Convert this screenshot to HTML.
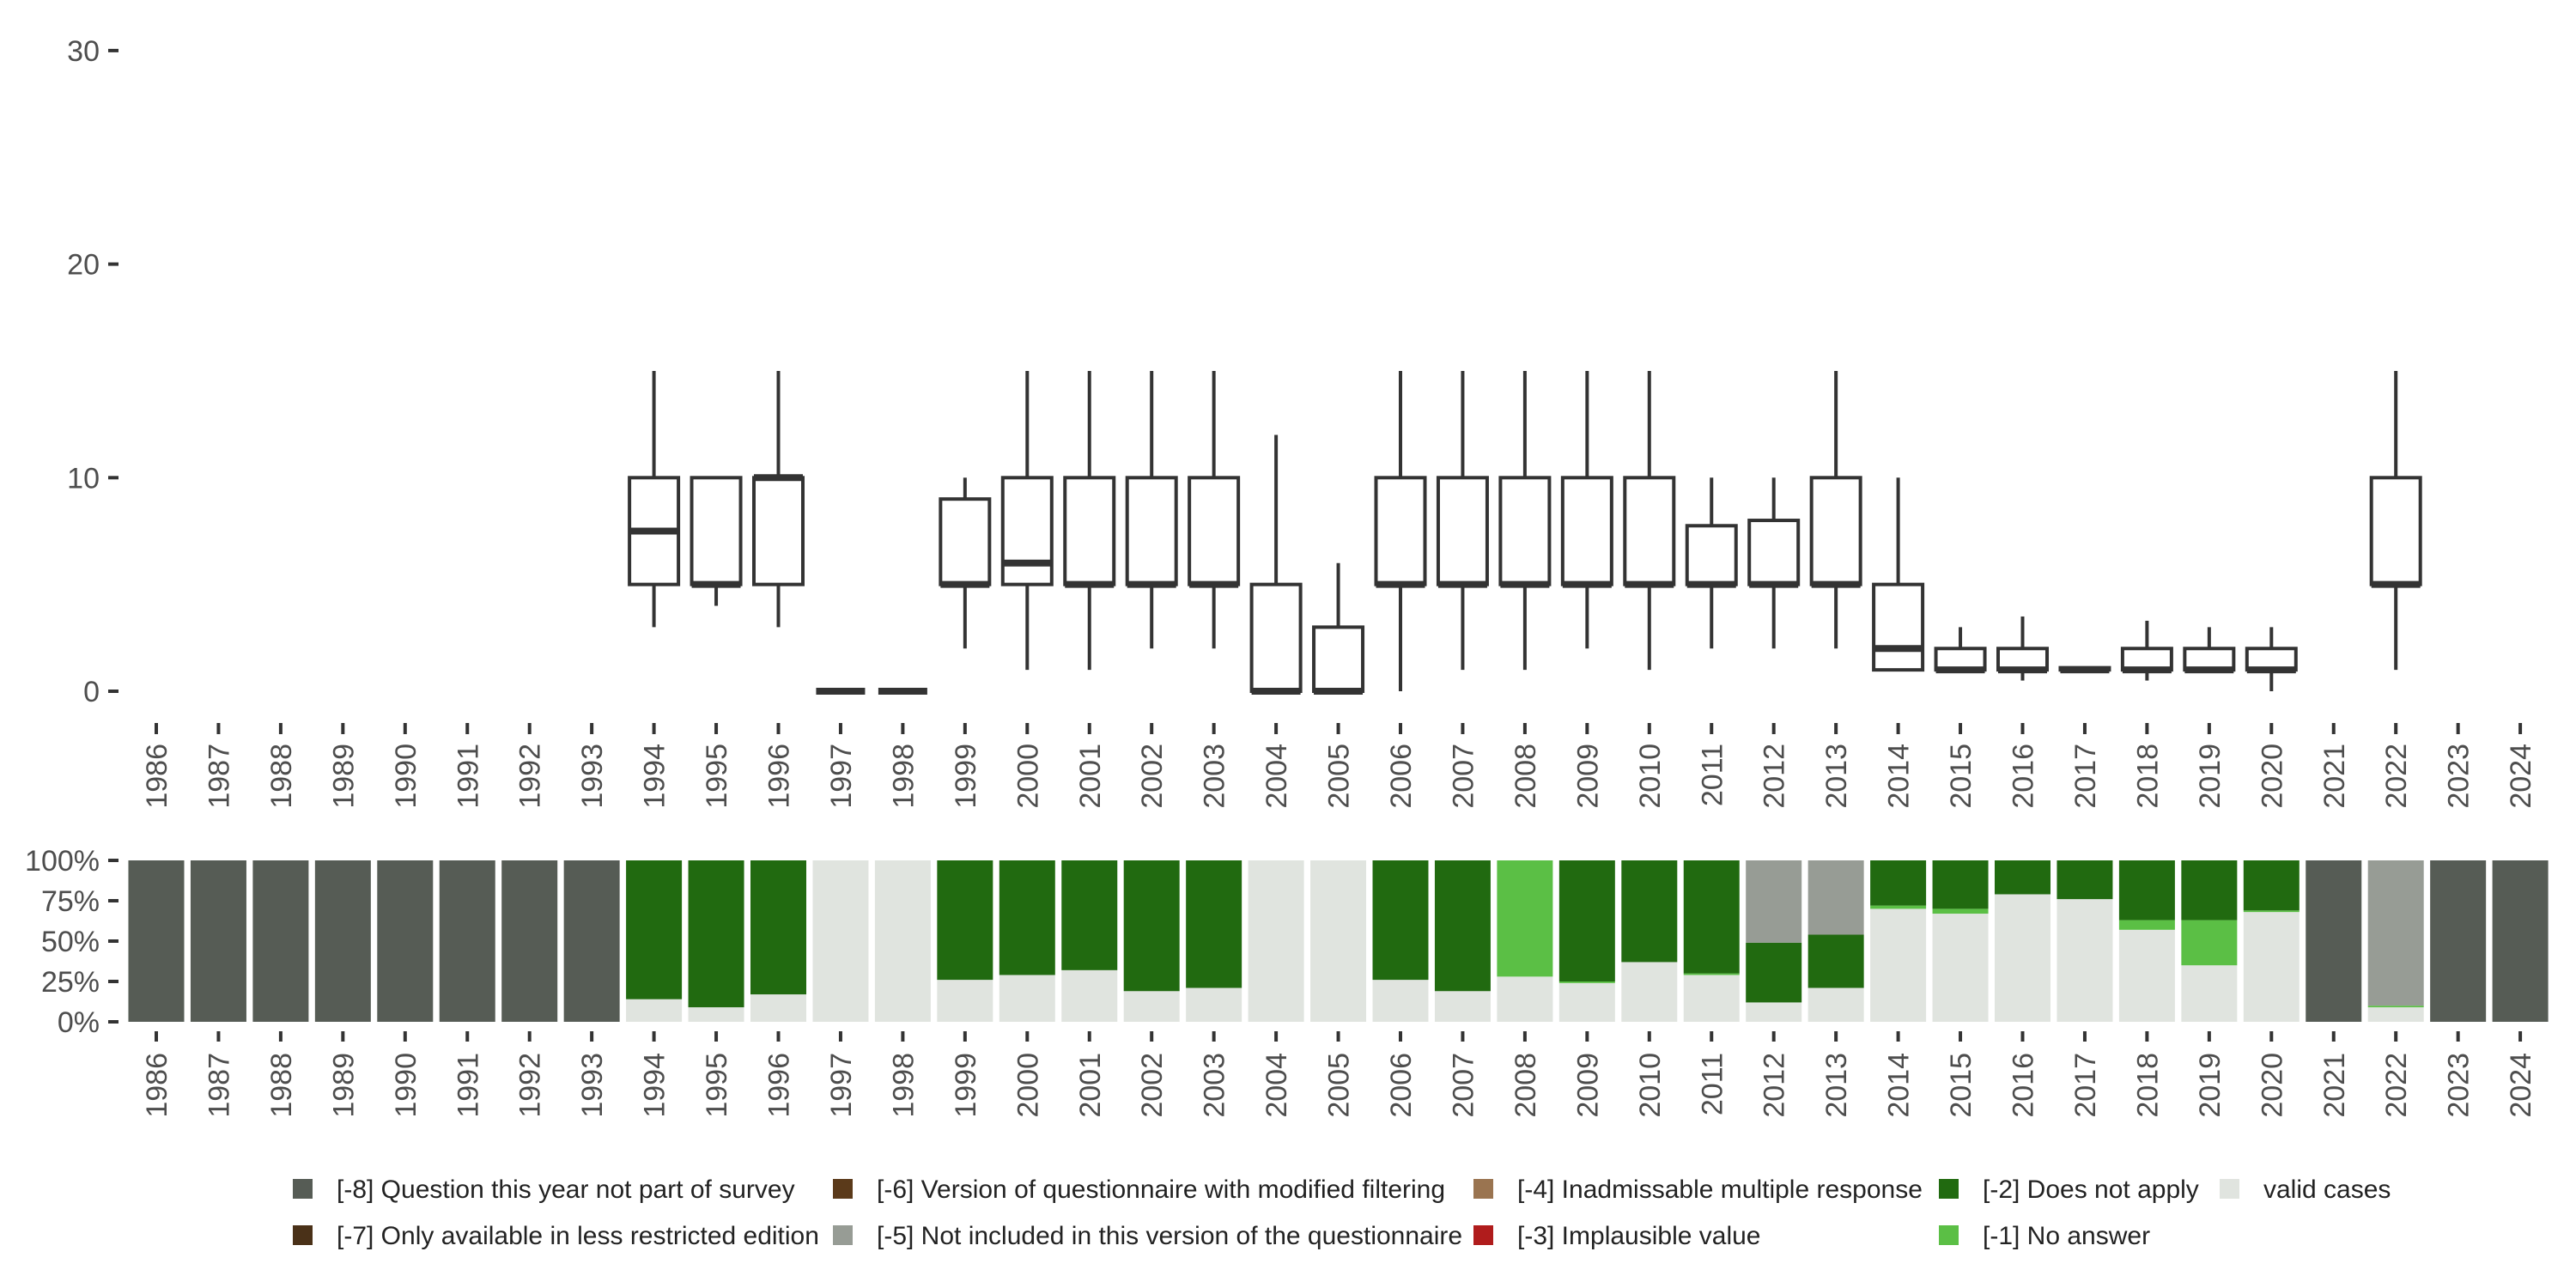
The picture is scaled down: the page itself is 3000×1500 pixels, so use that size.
<!DOCTYPE html>
<html><head><meta charset="utf-8">
<style>
html,body{margin:0;padding:0;background:#fff;}
svg{display:block;font-family:"Liberation Sans",sans-serif;}
</style></head>
<body>
<svg id="chart" width="3000" height="1500" viewBox="0 0 3000 1500" xmlns="http://www.w3.org/2000/svg">
<g id="topPanel"></g>
<g id="botPanel"></g>
<g id="legPanel"></g>
</svg>
<script>
const years = [];
for (let y = 1986; y <= 2024; y++) years.push(y);
// box stats: year, lower whisker, q1, median, q3, upper whisker
const boxYears = [1994,1995,1996,1997,1998,1999,2000,2001,2002,2003,2004,2005,2006,2007,2008,2009,2010,2011,2012,2013,2014,2015,2016,2017,2018,2019,2020,2022];
const boxLow  = [3,4,3,0,0,2,1,1,2,2,0,0,0,1,1,2,1,2,2,2,1,1,0.5,1,0.5,1,0,1];
const boxQ1   = [5,5,5,0,0,5,5,5,5,5,0,0,5,5,5,5,5,5,5,5,1,1,1,1,1,1,1,5];
const boxMed  = [7.5,5,10,0,0,5,6,5,5,5,0,0,5,5,5,5,5,5,5,5,2,1,1,1,1,1,1,5];
const boxQ3   = [10,10,10,0,0,9,10,10,10,10,5,3,10,10,10,10,10,7.75,8,10,5,2,2,1.1,2,2,2,10];
const boxHigh = [15,10,15,0,0,10,15,15,15,15,12,6,15,15,15,15,15,10,10,15,10,3,3.5,1,3.3,3,3,15];
const yTicks = [0,10,20,30];
const pctTicks = [0,25,50,75,100];
const pctLabels = ["0%","25%","50%","75%","100%"];
// shares (%) per year
const shareValid   = [0,0,0,0,0,0,0,0,14,9,17,100,100,26,29,32,19,21,100,100,26,19,28,24,37,29,12,21,70,67,79,76,57,35,68,0,9,0,0];
const shareNoAns   = [0,0,0,0,0,0,0,0,0,0,0,0,0,0,0,0,0,0,0,0,0,0,72,1,0,1,0,0,2,3,0,0,6,28,1,0,1,0,0];
const shareDNA     = [0,0,0,0,0,0,0,0,86,91,83,0,0,74,71,68,81,79,0,0,74,81,0,75,63,70,37,33,28,30,21,24,37,37,31,0,0,0,0];
const shareNotInc  = [0,0,0,0,0,0,0,0,0,0,0,0,0,0,0,0,0,0,0,0,0,0,0,0,0,0,51,46,0,0,0,0,0,0,0,0,90,0,0];
const shareNotPart = [100,100,100,100,100,100,100,100,0,0,0,0,0,0,0,0,0,0,0,0,0,0,0,0,0,0,0,0,0,0,0,0,0,0,0,100,0,100,100];
const legendLabels = ["[-8] Question this year not part of survey","[-7] Only available in less restricted edition","[-6] Version of questionnaire with modified filtering","[-5] Not included in this version of the questionnaire","[-4] Inadmissable multiple response","[-3] Implausible value","[-2] Does not apply","[-1] No answer","valid cases"];
const legendColors = ["#565c55","#4a3118","#5b3a1a","#979c95","#9a7450","#b01c1c","#216a10","#5bbf45","#e0e4df"];

const NS="http://www.w3.org/2000/svg";
function mk(parent,tag,attrs,text){const e=document.createElementNS(NS,tag);for(const k in attrs)e.setAttribute(k,attrs[k]);if(text!==undefined)e.textContent=text;parent.appendChild(e);return e;}
const xPos = yr => 182 + (yr-1986)*72.45;
const yTop = v => 805 - v*24.87;
const yBot = p => 1190 - p*1.88;
const topG=document.getElementById('topPanel'), botG=document.getElementById('botPanel'), legG=document.getElementById('legPanel');
const tc="#333", lc="#4d4d4d";

yTicks.forEach(t=>{
  const l=mk(topG,'line',{x1:126,x2:138,y1:yTop(t),y2:yTop(t),stroke:tc,'stroke-width':4});
  
  
  const tx=mk(topG,'text',{x:116,y:yTop(t)+12,'text-anchor':'end','font-size':34,fill:lc},String(t));
  
  
});
pctTicks.forEach((t,i)=>{
  const l=mk(botG,'line',{x1:126,x2:138,y1:yBot(t),y2:yBot(t),stroke:tc,'stroke-width':4});
  
  
  const tx=mk(botG,'text',{x:116,y:yBot(t)+12,'text-anchor':'end','font-size':34,fill:lc},pctLabels[i]);
  
  
});
years.forEach(yr=>{
  const x=xPos(yr);
  [[842,855,866],[1201,1213,1226]].forEach(([a,b,ty],k)=>{
    const p=k?botG:topG;
    const l=mk(p,'line',{x1:x,x2:x,y1:a,y2:b,stroke:tc,'stroke-width':4});
    
    
    const tx=mk(p,'text',{x:0,y:0,transform:`translate(${x+12},${ty}) rotate(-90)`,'text-anchor':'end','font-size':34,fill:lc},String(yr));
    
    
  });
});
// boxes
const bw=57;
boxYears.forEach((yr,i)=>{
  const x=xPos(yr);
  const g=mk(topG,'g',{});
  
  
  mk(g,'line',{x1:x,x2:x,y1:yTop(boxHigh[i]),y2:yTop(boxQ3[i]),stroke:tc,'stroke-width':4});
  mk(g,'line',{x1:x,x2:x,y1:yTop(boxQ1[i]),y2:yTop(boxLow[i]),stroke:tc,'stroke-width':4});
  mk(g,'rect',{x:x-bw/2,y:yTop(boxQ3[i]),width:bw,height:Math.max(0,yTop(boxQ1[i])-yTop(boxQ3[i])),fill:'#fff',stroke:tc,'stroke-width':4});
  mk(g,'line',{x1:x-bw/2,x2:x+bw/2,y1:yTop(boxMed[i]),y2:yTop(boxMed[i]),stroke:tc,'stroke-width':8});
});
// stacked bars, bottom to top: valid, -1, -2, -5, -8
const series=[[shareValid,"#e0e4df","valid"],[shareNoAns,"#5bbf45","no-answer"],[shareDNA,"#216a10","does-not-apply"],[shareNotInc,"#979c95","not-included"],[shareNotPart,"#565c55","not-part-of-survey"]];
years.forEach((yr,i)=>{
  let cum=0;const x=xPos(yr);
  series.forEach(([arr,col,nm])=>{
    const v=arr[i]; if(!v)return;
    const r=mk(botG,'rect',{x:x-32.5,y:yBot(cum+v),width:65,height:yBot(cum)-yBot(cum+v),fill:col});
    
    
    cum+=v;
  });
});
// legend (column-major, 2 rows)
const colX=[352,981,1727,2269,2596], rowY=[1385,1439];
legendLabels.forEach((lab,i)=>{
  const c=Math.floor(i/2), r=i%2;
  const g=mk(legG,'g',{});
  
  
  mk(g,'rect',{x:colX[c]-11,y:rowY[r]-12,width:23,height:23,fill:legendColors[i]});
  mk(g,'text',{x:colX[c]+40,y:rowY[r]+10,'font-size':30,fill:'#222'},lab);
});
</script>
</body></html>
